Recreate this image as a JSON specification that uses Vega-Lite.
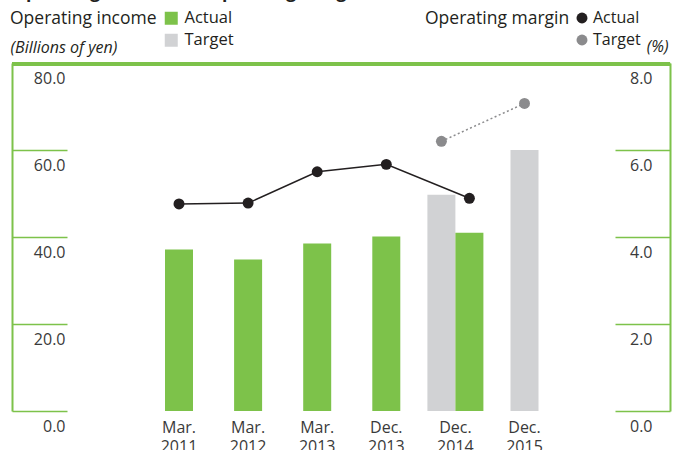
{
  "$schema": "https://vega.github.io/schema/vega-lite/v6.json",
  "width": 658,
  "height": 348,
  "autosize": {"type": "none"},
  "padding": {"left": 12, "top": 63, "right": 14, "bottom": 39},
  "config": {
    "font": "Open Sans",
    "view": {"stroke": null},
    "axis": {"grid": false}
  },
  "title": {
    "text": "Operating income and operating margin",
    "anchor": "start",
    "frame": "group",
    "fontSize": 17.5,
    "fontWeight": "bold",
    "color": "#231f20",
    "baseline": "alphabetic",
    "offset": 0,
    "dy": 5
  },
  "data": {
    "values": [
      {"period": "Mar. 2011", "series": "Actual", "income": 37.1, "margin": 4.76},
      {"period": "Mar. 2012", "series": "Actual", "income": 34.8, "margin": 4.78},
      {"period": "Mar. 2013", "series": "Actual", "income": 38.5, "margin": 5.5},
      {"period": "Dec. 2013", "series": "Actual", "income": 40.1, "margin": 5.67},
      {"period": "Dec. 2014", "series": "Target", "income": 49.7, "margin": 6.2},
      {"period": "Dec. 2014", "series": "Actual", "income": 41.0, "margin": 4.89},
      {"period": "Dec. 2015", "series": "Target", "income": 60.0, "margin": 7.07}
    ]
  },
  "transform": [
    {"joinaggregate": [{"op": "count", "as": "n"}], "groupby": ["period"]},
    {"calculate": "datum.n > 1 ? datum.series : 'single'", "as": "slot"}
  ],
  "layer": [
    {
      "layer": [
        {
          "mark": {"type": "bar", "width": 28},
          "encoding": {
            "x": {
              "field": "period", "type": "nominal",
              "sort": ["Mar. 2011", "Mar. 2012", "Mar. 2013", "Dec. 2013", "Dec. 2014", "Dec. 2015"],
              "scale": {"paddingInner": 0, "paddingOuter": 0, "range": [132.45, 547.05]},
              "axis": {
                "title": null, "domain": false, "ticks": false, "labelAngle": 0,
                "labelExpr": "split(datum.label, ' ')",
                "labelFontSize": 16, "labelLineHeight": 19, "labelColor": "#3a3a3a",
                "labelPadding": 8
              }
            },
            "xOffset": {
              "field": "slot", "type": "nominal",
              "scale": {"domain": ["Target", "single", "Actual"], "paddingInner": 0, "paddingOuter": 0.968}
            },
            "y": {
              "field": "income", "type": "quantitative",
              "scale": {"domain": [0, 80], "nice": false},
              "axis": {
                "orient": "left",
                "values": [0, 20, 40, 60, 80],
                "format": ".1f",
                "title": "(Billions of yen)",
                "titleAngle": 0, "titleX": -2, "titleY": -11,
                "titleAlign": "left", "titleBaseline": "alphabetic",
                "titleFontStyle": "italic", "titleFontWeight": "normal",
                "titleFontSize": 16, "titleColor": "#231f20",
                "domain": true, "domainColor": "#7dc24a", "domainWidth": 2,
                "ticks": true, "tickSize": -55, "tickColor": "#7dc24a", "tickWidth": 1.3,
                "labelAlign": "right", "labelBaseline": "middle",
                "labelPadding": 2, "labelOffset": 15, "labelFlush": false,
                "labelFontSize": 16, "labelColor": "#3a3a3a"
              }
            },
            "color": {
              "field": "series", "type": "nominal",
              "scale": {"domain": ["Actual", "Target"], "range": ["#7dc24a", "#d1d2d4"]},
              "legend": {
                "orient": "none", "legendX": -2, "legendY": -53,
                "title": "Operating income", "titleOrient": "left",
                "titleAnchor": "start", "titleBaseline": "top",
                "titleFontSize": 17.5, "titleFontWeight": "normal", "titleColor": "#231f20",
                "titlePadding": 6, "titleLimit": 300,
                "symbolType": "square", "symbolSize": 169, "symbolStrokeWidth": 0,
                "labelFontSize": 16.5, "labelColor": "#231f20", "labelOffset": 5,
                "rowPadding": 5
              }
            }
          }
        },
        {
          "mark": {"type": "rule", "color": "#7dc24a", "strokeWidth": 4, "yOffset": 1},
          "encoding": {"y": {"datum": 80, "type": "quantitative"}}
        }
      ]
    },
    {
      "layer": [
        {
          "transform": [{"filter": "datum.series == 'Actual'"}],
          "mark": {"type": "line", "color": "#231f20", "strokeWidth": 1.5},
          "encoding": {
            "x": {"field": "period", "type": "nominal",
              "sort": ["Mar. 2011", "Mar. 2012", "Mar. 2013", "Dec. 2013", "Dec. 2014", "Dec. 2015"]},
            "xOffset": {"field": "slot", "type": "nominal"},
            "y": {"field": "margin", "type": "quantitative"}
          }
        },
        {
          "transform": [{"filter": "datum.series == 'Target'"}],
          "mark": {"type": "line", "color": "#8b8b8d", "strokeWidth": 1.5, "strokeDash": [2, 2.5]},
          "encoding": {
            "x": {"field": "period", "type": "nominal",
              "sort": ["Mar. 2011", "Mar. 2012", "Mar. 2013", "Dec. 2013", "Dec. 2014", "Dec. 2015"]},
            "xOffset": {"field": "slot", "type": "nominal"},
            "y": {"field": "margin", "type": "quantitative"}
          }
        },
        {
          "mark": {"type": "point", "filled": true, "opacity": 1, "size": 120},
          "encoding": {
            "x": {"field": "period", "type": "nominal",
              "sort": ["Mar. 2011", "Mar. 2012", "Mar. 2013", "Dec. 2013", "Dec. 2014", "Dec. 2015"]},
            "xOffset": {"field": "slot", "type": "nominal"},
            "y": {
              "field": "margin", "type": "quantitative",
              "scale": {"domain": [0, 8], "nice": false},
              "axis": {
                "orient": "right",
                "values": [0, 2, 4, 6, 8],
                "format": ".1f",
                "title": "(%)",
                "titleAngle": 0, "titleX": -2, "titleY": -12,
                "titleAlign": "right", "titleBaseline": "alphabetic",
                "titleFontStyle": "italic", "titleFontWeight": "normal",
                "titleFontSize": 16, "titleColor": "#231f20",
                "domain": true, "domainColor": "#7dc24a", "domainWidth": 2,
                "ticks": true, "tickSize": -55, "tickColor": "#7dc24a", "tickWidth": 1.3,
                "labelAlign": "right", "labelBaseline": "middle",
                "labelPadding": 37, "labelOffset": 15, "labelFlush": false,
                "labelFontSize": 16, "labelColor": "#3a3a3a"
              }
            },
            "color": {
              "field": "series", "type": "nominal",
              "scale": {"domain": ["Actual", "Target"], "range": ["#231f20", "#8b8b8d"]},
              "legend": {
                "orient": "none", "legendX": 413, "legendY": -53,
                "title": "Operating margin", "titleOrient": "left",
                "titleAnchor": "start", "titleBaseline": "top",
                "titleFontSize": 17.5, "titleFontWeight": "normal", "titleColor": "#231f20",
                "titlePadding": 4, "titleLimit": 300,
                "symbolType": "circle", "symbolSize": 120, "symbolStrokeWidth": 0,
                "labelFontSize": 16, "labelColor": "#231f20", "labelOffset": 3,
                "rowPadding": 6
              }
            }
          }
        }
      ]
    }
  ],
  "resolve": {"scale": {"y": "independent", "color": "independent"}}
}
